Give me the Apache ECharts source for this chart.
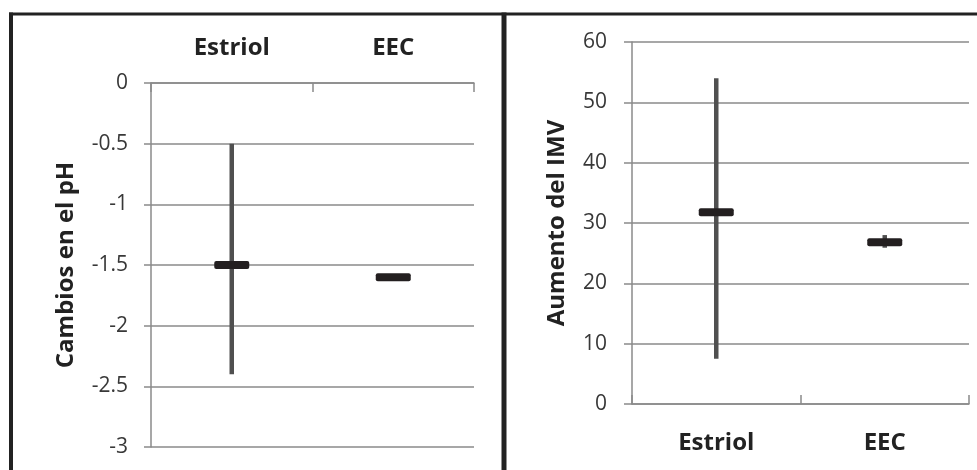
<!DOCTYPE html>
<html>
<head>
<meta charset="utf-8">
<script src="https://cdn.jsdelivr.net/npm/echarts@6/dist/echarts.min.js"></script>
<style>html,body{margin:0;padding:0;background:#fff;}#c{width:977px;height:470px;}</style>
</head>
<body>
<div id="c"></div>
<script>
// ---- data ----
const categories = ['Estriol', 'EEC'];
// Left panel: Cambios en el pH
const phMean = [-1.5, -1.6];
const phLow = [-2.4, -1.6];
const phHigh = [-0.5, -1.6];
const phTicks = { min: -3, max: 0, interval: 0.5 };
// Right panel: Aumento del IMV
const imvMean = [31.8, 26.8];
const imvLow = [7.5, 25.9];
const imvHigh = [54, 28.0];
const imvTicks = { min: 0, max: 60, interval: 10 };

const FONT = '"Open Sans", sans-serif';
const gridColor = '#8a8a8a';
const tickColor = '#383838';
const catColor = '#222222';

function rows(mean, low, high) {
  return categories.map((c, i) => [i, mean[i], low[i], high[i]]);
}

function renderErr(params, api) {
  const x = api.value(0);
  const m = api.coord([x, api.value(1)]);
  const lo = api.coord([x, api.value(2)]);
  const hi = api.coord([x, api.value(3)]);
  const children = [];
  if (Math.abs(lo[1] - hi[1]) > 0.5) {
    children.push({
      type: 'line',
      shape: { x1: m[0], y1: hi[1], x2: m[0], y2: lo[1] },
      style: { stroke: '#505050', lineWidth: 4.5 }
    });
  }
  children.push({
    type: 'rect',
    shape: { x: m[0] - 17.5, y: m[1] - 4, width: 35, height: 8, r: 2 },
    style: { fill: '#231f20' }
  });
  return { type: 'group', children };
}

const chart = echarts.init(document.getElementById('c'), null, { renderer: 'canvas' });
chart.setOption({
  backgroundColor: '#ffffff',
  animation: false,
  grid: [
    { left: 151, right: 503, top: 83, bottom: 23, containLabel: false },
    { left: 632, right: 8, top: 42, bottom: 66, containLabel: false }
  ],
  xAxis: [
    {
      gridIndex: 0, type: 'category', data: categories, position: 'top',
      boundaryGap: true,
      axisLine: { show: true, lineStyle: { color: gridColor, width: 1.5 } },
      axisTick: { show: true, inside: true, length: 9, lineStyle: { color: gridColor, width: 1.5 } },
      axisLabel: { margin: 23, fontFamily: FONT, fontSize: 24, fontWeight: 'bold', color: catColor },
      splitLine: { show: false }
    },
    {
      gridIndex: 1, type: 'category', data: categories, position: 'bottom',
      boundaryGap: true,
      axisLine: { show: true, lineStyle: { color: gridColor, width: 1.5 } },
      axisTick: { show: true, inside: true, length: 9, lineStyle: { color: gridColor, width: 1.5 } },
      axisLabel: { margin: 27, fontFamily: FONT, fontSize: 24, fontWeight: 'bold', color: catColor },
      splitLine: { show: false }
    }
  ],
  yAxis: [
    {
      gridIndex: 0, type: 'value', min: phTicks.min, max: phTicks.max, interval: phTicks.interval,
      name: 'Cambios en el pH', nameLocation: 'middle', nameGap: 73, nameRotate: 90,
      nameTextStyle: { fontFamily: FONT, fontSize: 24, fontWeight: 'bold', color: catColor },
      axisLine: { show: true, lineStyle: { color: gridColor, width: 1.5 } },
      axisTick: { show: true, length: 7, lineStyle: { color: gridColor, width: 1.5 } },
      axisLabel: { margin: 23, fontFamily: FONT, fontSize: 21, color: tickColor },
      splitLine: { show: true, lineStyle: { color: gridColor, width: 1.5 } }
    },
    {
      gridIndex: 1, type: 'value', min: imvTicks.min, max: imvTicks.max, interval: imvTicks.interval,
      name: 'Aumento del IMV', nameLocation: 'middle', nameGap: 63, nameRotate: 90,
      nameTextStyle: { fontFamily: FONT, fontSize: 24, fontWeight: 'bold', color: catColor },
      axisLine: { show: true, lineStyle: { color: gridColor, width: 1.5 } },
      axisTick: { show: true, length: 8, lineStyle: { color: gridColor, width: 1.5 } },
      axisLabel: { margin: 25, fontFamily: FONT, fontSize: 21, color: tickColor },
      splitLine: { show: true, lineStyle: { color: gridColor, width: 1.5 } }
    }
  ],
  series: [
    {
      type: 'custom', xAxisIndex: 0, yAxisIndex: 0,
      data: rows(phMean, phLow, phHigh),
      encode: { x: 0, y: [1, 2, 3] },
      renderItem: renderErr, z: 10
    },
    {
      type: 'custom', xAxisIndex: 1, yAxisIndex: 1,
      data: rows(imvMean, imvLow, imvHigh),
      encode: { x: 0, y: [1, 2, 3] },
      renderItem: renderErr, z: 10
    }
  ],
  graphic: [
    { type: 'line', shape: { x1: 9, y1: 14, x2: 977, y2: 14 }, style: { stroke: '#222', lineWidth: 3 }, z: 100 },
    { type: 'line', shape: { x1: 11, y1: 12.5, x2: 11, y2: 470 }, style: { stroke: '#222', lineWidth: 4 }, z: 100 },
    { type: 'line', shape: { x1: 504, y1: 12.5, x2: 504, y2: 470 }, style: { stroke: '#222', lineWidth: 5 }, z: 100 }
  ]
});
</script>
</body>
</html>
